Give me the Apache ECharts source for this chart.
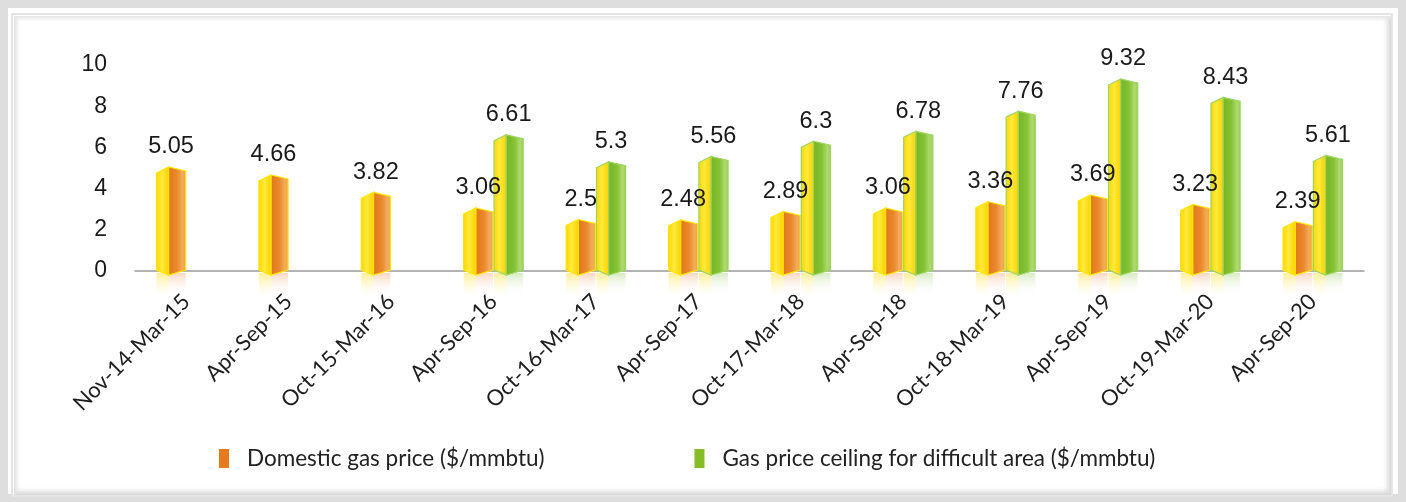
<!DOCTYPE html>
<html>
<head>
<meta charset="utf-8">
<title>Domestic gas price</title>
<script src="https://cdn.jsdelivr.net/npm/echarts@6/dist/echarts.min.js"></script>
<style>
  html, body { margin: 0; padding: 0; background: #ffffff; }
  #chart { width: 1406px; height: 502px; }
</style>
</head>
<body>
<div id="chart"></div>
<script>
// Pricing periods
const categories = [
  'Nov-14-Mar-15', 'Apr-Sep-15', 'Oct-15-Mar-16', 'Apr-Sep-16',
  'Oct-16-Mar-17', 'Apr-Sep-17', 'Oct-17-Mar-18', 'Apr-Sep-18',
  'Oct-18-Mar-19', 'Apr-Sep-19', 'Oct-19-Mar-20', 'Apr-Sep-20'
];
// Domestic gas price ($/mmbtu)
const domesticPrice = [5.05, 4.66, 3.82, 3.06, 2.5, 2.48, 2.89, 3.06, 3.36, 3.69, 3.23, 2.39];
// Price ceiling for difficult areas ($/mmbtu), introduced from Apr-Sep-16
const ceilingPrice = [null, null, null, 6.61, 5.3, 5.56, 6.3, 6.78, 7.76, 9.32, 8.43, 5.61];
// Value axis ticks
const yMin = 0, yMax = 10, yStep = 2;

const seriesNames = ['Domestic gas price ($/mmbtu)', 'Gas price ceiling for difficult area ($/mmbtu)'];

function toItems(values) {
  const items = [];
  values.forEach((v, i) => { if (v != null) items.push([i, v]); });
  return items;
}

function lin(x0, y0, x1, y1, stops) {
  return new echarts.graphic.LinearGradient(x0, y0, x1, y1,
    stops.map(s => ({ offset: s[0], color: s[1] })));
}

// Faceted prism bar: yellow front-left face, coloured right face, pointed top.
function prismRenderer(side, faceStops, edgeColor, glowColor) {
  return function (params, api) {
    const cat = api.value(0);
    const val = api.value(1);
    const base = api.coord([cat, 0]);
    const top = api.coord([cat, val]);
    const band = api.size([1, 0])[0];
    const w = band * 0.285;
    const cx = base[0] + side * band * 0.148;
    const xl = cx - w / 2, xr = cx + w / 2, xm = xl + w * 0.42;
    const ty = top[1], by = base[1];

    const leftFace = {
      type: 'polygon',
      shape: { points: [[xl, ty + 6], [xm, ty], [xm, by + 4], [xl, by - 1]] },
      style: {
        fill: lin(0, 0, 1, 0, [[0, '#ffd400'], [0.45, '#ffea3a'], [1, '#f9cf00']]),
        stroke: edgeColor, lineWidth: 1.2
      }
    };
    const rightFace = {
      type: 'polygon',
      shape: { points: [[xm, ty], [xr, ty + 4], [xr, by - 1], [xm, by + 4]] },
      style: { fill: lin(0, 0, 1, 0, faceStops), stroke: edgeColor, lineWidth: 1.2 }
    };
    const glowL = {
      type: 'rect',
      shape: { x: xl, y: by + 2, width: xm - xl, height: 22 },
      style: { fill: lin(0, 0, 0, 1, [[0, 'rgba(255,215,0,0.40)'], [1, 'rgba(255,235,120,0)']]) },
      silent: true
    };
    const glowR = {
      type: 'rect',
      shape: { x: xm, y: by + 2, width: xr - xm, height: 22 },
      style: { fill: lin(0, 0, 0, 1, [[0, glowColor], [1, 'rgba(255,255,255,0)']]) },
      silent: true
    };
    const label = {
      type: 'text',
      style: {
        text: String(val),
        x: cx, y: ty - 8,
        align: 'center', verticalAlign: 'bottom',
        fontFamily: '"Liberation Sans", Arial, sans-serif',
        fontSize: 23.5, fill: '#1a1a1a'
      },
      z2: 10
    };
    return { type: 'group', children: [glowL, glowR, leftFace, rightFace, label] };
  };
}

const chart = echarts.init(document.getElementById('chart'), null, { renderer: 'canvas' });

const option = {
  backgroundColor: '#ffffff',
  animation: false,
  graphic: [
    // outer grey frame
    { type: 'rect', z: -10, silent: true,
      shape: { x: 4, y: 4, width: 1398, height: 494 },
      style: { fill: 'none', stroke: '#dedede', lineWidth: 8 } },
    // inner panel edge with soft shading
    { type: 'rect', z: -10, silent: true,
      shape: { x: 12, y: 14, width: 1380, height: 482 },
      style: { fill: '#ffffff', stroke: '#e4e4e4', lineWidth: 2 } },
    { type: 'rect', z: -10, silent: true,
      shape: { x: 1383, y: 16, width: 8, height: 478 },
      style: { fill: lin(0, 0, 1, 0, [[0, 'rgba(225,225,225,0)'], [1, 'rgba(215,215,215,1)']]) } },
    { type: 'rect', z: -10, silent: true,
      shape: { x: 14, y: 487, width: 1377, height: 8 },
      style: { fill: lin(0, 0, 0, 1, [[0, 'rgba(225,225,225,0)'], [1, 'rgba(215,215,215,1)']]) } },
    { type: 'rect', z: -10, silent: true,
      shape: { x: 14, y: 16, width: 6, height: 478 },
      style: { fill: lin(0, 0, 1, 0, [[0, 'rgba(225,225,225,1)'], [1, 'rgba(225,225,225,0)']]) } },
    { type: 'rect', z: -10, silent: true,
      shape: { x: 14, y: 16, width: 1377, height: 6 },
      style: { fill: lin(0, 0, 0, 1, [[0, 'rgba(230,230,230,1)'], [1, 'rgba(230,230,230,0)']]) } }
  ],
  grid: { left: 135, right: 42, top: 65, bottom: 231, containLabel: false },
  legend: {
    left: 214, top: 442,
    icon: 'rect', itemWidth: 10, itemHeight: 19, itemGap: 150,
    data: seriesNames,
    textStyle: {
      fontFamily: 'Lato, "Open Sans", sans-serif', fontSize: 22.5, color: '#222',
      padding: [0, 0, 0, 13]
    }
  },
  xAxis: {
    type: 'category',
    data: categories,
    axisLine: { show: true, lineStyle: { color: '#9a9a9a', width: 1.5 } },
    axisTick: { show: false },
    axisLabel: {
      interval: 0, rotate: 45, margin: 27,
      fontFamily: 'Lato, "Open Sans", sans-serif', fontSize: 22, color: '#1e1e1e'
    },
    splitLine: { show: false }
  },
  yAxis: {
    type: 'value',
    min: yMin, max: yMax, interval: yStep,
    axisLine: { show: false },
    axisTick: { show: false },
    splitLine: { show: false },
    axisLabel: {
      margin: 28,
      fontFamily: '"Liberation Sans", Arial, sans-serif', fontSize: 23, color: '#1a1a1a'
    }
  },
  series: [
    {
      name: seriesNames[0],
      type: 'custom',
      itemStyle: { color: '#e87a1e' },
      renderItem: prismRenderer(-1,
        [[0, '#e2751c'], [0.5, '#ea8a2c'], [0.8, '#f2ad5e'], [1, '#ee9c44']],
        '#ffe500', 'rgba(238,150,90,0.38)'),
      encode: { x: 0, y: 1 },
      data: toItems(domesticPrice)
    },
    {
      name: seriesNames[1],
      type: 'custom',
      itemStyle: { color: '#84bd26' },
      renderItem: prismRenderer(1,
        [[0, '#76b524'], [0.5, '#86c235'], [0.8, '#b1da72'], [1, '#97ca4c']],
        '#9dd660', 'rgba(140,200,80,0.35)'),
      encode: { x: 0, y: 1 },
      data: toItems(ceilingPrice)
    }
  ]
};

chart.setOption(option);
</script>
</body>
</html>
